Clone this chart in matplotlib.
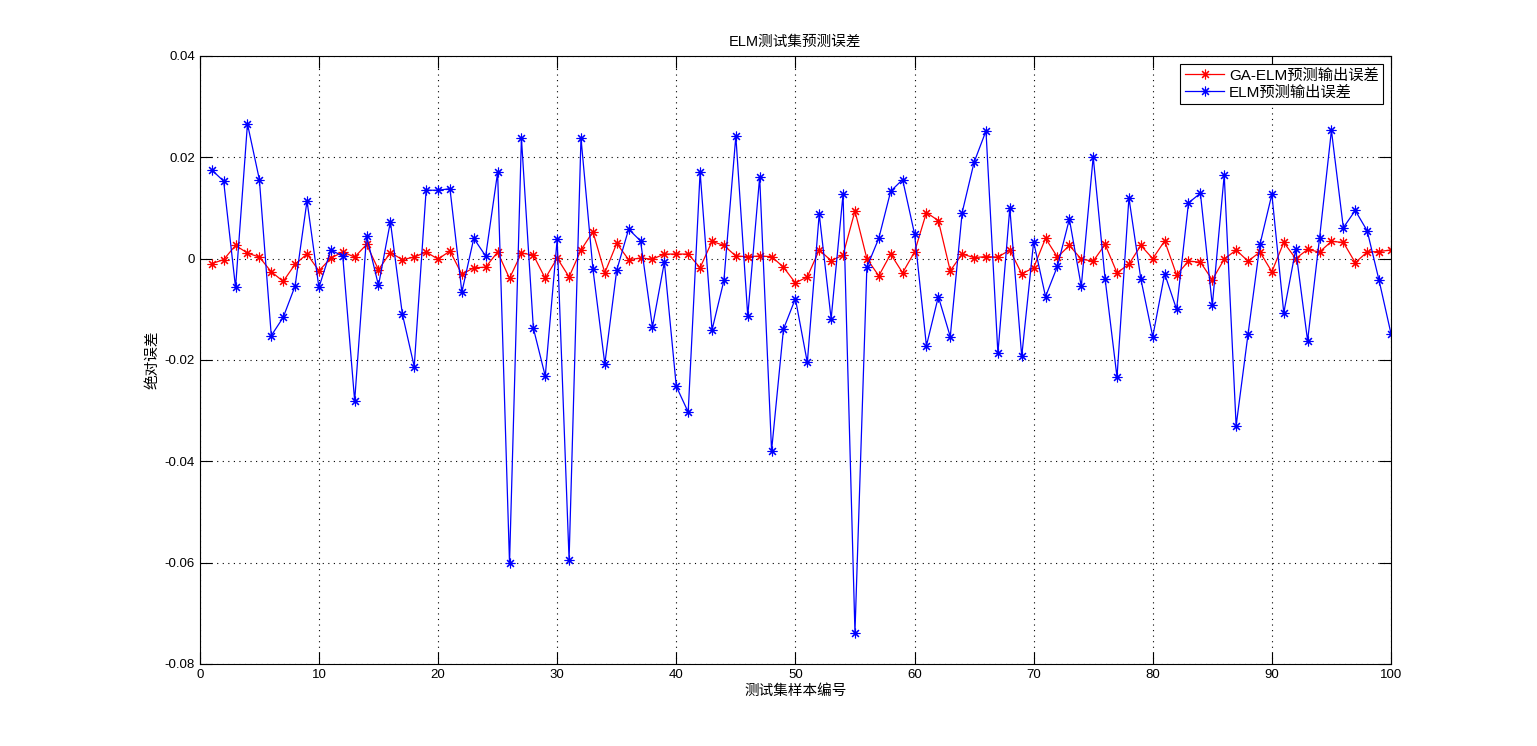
import matplotlib
matplotlib.use("Agg")
import matplotlib.pyplot as plt
import numpy as np

plt.rcParams['font.family'] = ['Liberation Sans', 'Noto Sans CJK SC', 'DejaVu Sans']

# sample index 1..100
idx = np.arange(1, 101)

# GA-ELM absolute error (red)
ga_elm_err = [
    -0.0010, -0.0002, 0.0026, 0.0011, 0.0003, -0.0026, -0.0045, -0.0011, 0.0009, -0.0024,
    0.0001, 0.0013, 0.0003, 0.0028, -0.0022, 0.0012, -0.0002, 0.0003, 0.0013, -0.0001,
    0.0015, -0.0031, -0.0018, -0.0017, 0.0013, -0.0039, 0.0011, 0.0007, -0.0039, 0.0001,
    -0.0036, 0.0017, 0.0053, -0.0028, 0.0030, -0.0002, 0.0001, -0.0001, 0.0009, 0.0009,
    0.0009, -0.0018, 0.0034, 0.0026, 0.0005, 0.0004, 0.0005, 0.0004, -0.0017, -0.0048,
    -0.0036, 0.0017, -0.0004, 0.0007, 0.0094, 0.0000, -0.0034, 0.0009, -0.0028, 0.0013,
    0.0091, 0.0075, -0.0024, 0.0009, 0.0002, 0.0004, 0.0003, 0.0017, -0.0030, -0.0018,
    0.0040, 0.0003, 0.0026, -0.0001, -0.0005, 0.0028, -0.0028, -0.0011, 0.0026, 0.0000,
    0.0035, -0.0032, -0.0005, -0.0007, -0.0042, -0.0001, 0.0017, -0.0005, 0.0013, -0.0026,
    0.0032, 0.0000, 0.0018, 0.0013, 0.0034, 0.0032, -0.0008, 0.0013, 0.0014, 0.0017,
]

# ELM absolute error (blue)
elm_err = [
    0.0175, 0.0153, -0.0057, 0.0266, 0.0156, -0.0152, -0.0116, -0.0054, 0.0114, -0.0057,
    0.0017, 0.0005, -0.0281, 0.0045, -0.0053, 0.0073, -0.0109, -0.0213, 0.0135, 0.0135,
    0.0138, -0.0066, 0.0040, 0.0005, 0.0170, -0.0601, 0.0238, -0.0137, -0.0232, 0.0038,
    -0.0594, 0.0238, -0.0020, -0.0208, -0.0023, 0.0058, 0.0035, -0.0135, -0.0007, -0.0252,
    -0.0303, 0.0171, -0.0141, -0.0043, 0.0242, -0.0113, 0.0161, -0.0379, -0.0139, -0.0079,
    -0.0205, 0.0088, -0.0119, 0.0127, -0.0738, -0.0017, 0.0040, 0.0133, 0.0156, 0.0049,
    -0.0172, -0.0075, -0.0154, 0.0091, 0.0190, 0.0252, -0.0187, 0.0100, -0.0193, 0.0033,
    -0.0075, -0.0015, 0.0078, -0.0055, 0.0201, -0.0040, -0.0234, 0.0120, -0.0040, -0.0154,
    -0.0030, -0.0100, 0.0110, 0.0129, -0.0092, 0.0165, -0.0330, -0.0149, 0.0028, 0.0127,
    -0.0107, 0.0018, -0.0162, 0.0040, 0.0253, 0.0061, 0.0095, 0.0055, -0.0043, -0.0148,
]

fig = plt.figure(figsize=(15.37, 7.46), dpi=100)
ax = fig.add_axes([0.13, 0.11, 0.775, 0.815])

# matlab style '*' marker = 8 spokes
star = (8, 2, 0)
ax.plot(idx, ga_elm_err, '-', marker=star, color='red', lw=0.9, ms=7, mew=0.8,
        label='GA-ELM预测输出误差')
ax.plot(idx, elm_err, '-', marker=star, color='blue', lw=0.9, ms=7, mew=0.8,
        label='ELM预测输出误差')

ax.set_xlim(0, 100)
ax.set_ylim(-0.08, 0.04)
ax.set_xticks(np.arange(0, 101, 10))
ax.set_yticks(np.arange(-0.08, 0.041, 0.02))
ax.set_yticklabels(['-0.08', '-0.06', '-0.04', '-0.02', '0', '0.02', '0.04'])
ax.tick_params(direction='in', top=True, right=True, length=8.5, width=0.8, labelsize=9.5)
ax.grid(True, color='black', linestyle=(0, (1, 4)), linewidth=0.8)
for s in ax.spines.values():
    s.set_linewidth(0.8)

ax.set_title('ELM测试集预测误差', fontsize=10.5, pad=7)
ax.set_xlabel('测试集样本编号', fontsize=10.5, labelpad=2)
ax.set_ylabel('绝对误差', fontsize=10.5, labelpad=4)

leg = ax.legend(loc='upper right', fontsize=11, fancybox=False, framealpha=1,
                edgecolor='black', borderaxespad=0.5, handlelength=2.6,
                borderpad=0.3, labelspacing=0.2, handletextpad=0.3)
leg.get_frame().set_linewidth(0.8)

fig.savefig('out.png', dpi=100)
